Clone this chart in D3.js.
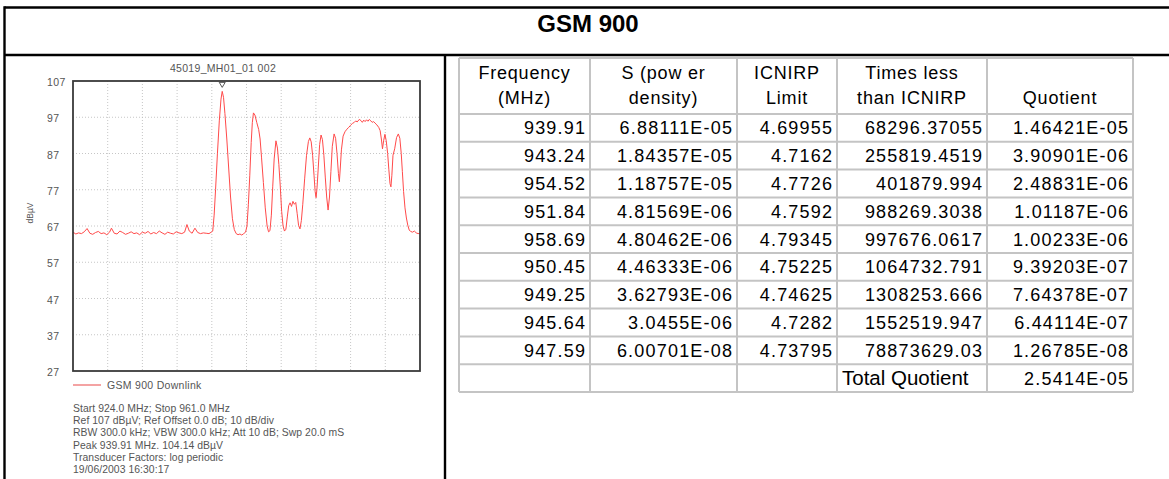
<!DOCTYPE html>
<html>
<head>
<meta charset="utf-8">
<script src="https://cdn.jsdelivr.net/npm/d3@7"></script>
<style>
  body { margin: 0; background: #fff; }
  svg { display: block; font-family: "Liberation Sans", Arial, sans-serif; }
</style>
</head>
<body>
<svg id="page" width="1169" height="479"></svg>
<script>
// ---- data ----
const pageTitle = "GSM 900";
const traceTitle = "45019_MH01_01 002";
const yTickValues = [27, 37, 47, 57, 67, 77, 87, 97, 107];
const freqRange = [924.0, 961.0];
const levelRange = [27, 107];
const xDivisions = 10;
const unitLabel = "dBµV";
const legendLabel = "GSM 900 Downlink";
const peakMarker = [939.91, 104.14];

// sweep trace: [MHz, dBµV]
const spectrum = [
  [924.0, 65.3], [924.3, 64.8], [924.6, 65.1], [924.9, 64.9], [925.2, 65.4], [925.5, 66.3],
  [925.8, 65.0], [926.1, 64.7], [926.4, 65.2], [926.7, 65.5], [927.0, 64.9], [927.3, 65.1],
  [927.6, 64.6], [927.9, 65.3], [928.1, 66.4], [928.4, 65.0], [928.7, 64.8], [929.0, 65.6],
  [929.3, 65.2], [929.6, 64.7], [929.9, 65.0], [930.2, 65.4], [930.5, 64.9], [930.8, 65.1],
  [931.1, 64.6], [931.4, 65.3], [931.7, 65.0], [932.0, 65.5], [932.3, 64.8], [932.6, 65.2],
  [932.9, 64.9], [933.2, 65.6], [933.5, 65.1], [933.8, 64.7], [934.1, 65.3], [934.4, 65.0],
  [934.7, 64.8], [935.0, 65.4], [935.3, 65.1], [935.6, 64.9], [935.9, 65.3], [936.15, 67.4],
  [936.4, 65.6], [936.7, 65.0], [937.0, 66.4], [937.3, 65.2], [937.6, 64.9], [937.9, 65.1],
  [938.2, 65.0], [938.5, 64.9], [938.8, 65.4],
  [938.9, 65.6], [939.05, 70], [939.2, 77], [939.4, 87], [939.6, 96], [939.78, 102],
  [939.91, 104.14], [940.05, 102.5], [940.2, 98], [940.4, 91], [940.6, 83], [940.8, 75],
  [941.0, 69], [941.2, 66], [941.4, 64.9], [941.6, 64.6], [941.8, 64.8], [942.0, 64.5],
  [942.2, 64.9], [942.4, 65.3], [942.55, 67], [942.7, 73], [942.85, 81], [943.0, 90],
  [943.12, 95.5], [943.24, 98.2], [943.4, 97.6], [943.6, 95.5], [943.8, 93.6], [943.95, 91],
  [944.1, 86], [944.3, 79], [944.5, 72], [944.7, 67], [944.85, 65.4], [945.0, 65.7],
  [945.15, 70], [945.3, 78], [945.45, 85.5], [945.64, 90.5], [945.8, 88.5], [945.95, 84],
  [946.1, 78], [946.25, 71], [946.4, 67], [946.55, 65.6], [946.7, 66.1], [946.85, 69.5],
  [947.0, 72.6], [947.15, 73.4], [947.3, 72.4], [947.45, 73.8], [947.6, 73.0], [947.75, 73.5],
  [947.9, 70.5], [948.05, 67.2], [948.2, 66.2], [948.35, 68.5], [948.5, 73], [948.7, 80],
  [948.9, 86.5], [949.1, 90.3], [949.25, 91.3], [949.4, 90.2], [949.55, 86.5], [949.7, 81],
  [949.82, 76.5], [949.92, 74.8], [950.02, 77.5], [950.15, 83], [950.3, 89.5], [950.45, 92.1],
  [950.6, 90.8], [950.75, 86.5], [950.9, 80.5], [951.05, 75], [951.2, 71.4], [951.35, 75],
  [951.5, 82], [951.65, 89], [951.84, 92.4], [952.0, 91.2], [952.15, 87], [952.3, 81.5],
  [952.4, 79.2], [952.5, 83], [952.62, 88], [952.8, 91.8], [953.0, 93], [953.2, 93.7],
  [953.4, 94.2], [953.6, 94.8], [953.8, 95.3], [954.0, 95.6], [954.15, 96.0], [954.3, 95.7],
  [954.52, 96.4], [954.7, 96.1], [954.85, 95.6], [955.0, 96.2], [955.15, 95.8], [955.3, 96.3],
  [955.45, 95.9], [955.6, 96.4], [955.75, 96.0], [955.9, 95.6], [956.05, 95.8], [956.2, 95.4],
  [956.4, 94.9], [956.6, 94.2], [956.75, 93.3], [956.88, 91], [957.0, 88.3], [957.12, 90.5],
  [957.26, 92.3], [957.4, 90.5], [957.55, 87], [957.68, 82.5], [957.8, 78.7], [957.9, 77.8],
  [958.0, 81], [958.12, 86.5], [958.3, 88.3], [958.5, 91.4], [958.69, 92.4], [958.85, 91.2],
  [959.0, 87], [959.12, 82], [959.25, 76.5], [959.4, 72], [959.55, 69.2], [959.7, 67.2],
  [959.85, 65.9], [960.0, 65.5], [960.2, 65.3], [960.4, 65.6], [960.6, 65.1], [960.8, 64.9],
  [961.0, 65.0]
];

const infoLines = [
  "Start 924.0 MHz; Stop 961.0 MHz",
  "Ref 107 dBµV; Ref Offset 0.0 dB; 10 dB/div",
  "RBW 300.0 kHz; VBW 300.0 kHz; Att 10 dB; Swp 20.0 mS",
  "Peak 939.91 MHz. 104.14 dBµV",
  "Transducer Factors: log periodic",
  "19/06/2003 16:30:17"
];

// exposure table
const headerLines = [
  ["Frequency", "(MHz)"],
  ["S (pow er", "density)"],
  ["ICNIRP", "Limit"],
  ["Times less", "than ICNIRP"],
  ["", "Quotient"]
];
const frequencyMHz = ["939.91", "943.24", "954.52", "951.84", "958.69", "950.45", "949.25", "945.64", "947.59"];
const powerDensity = ["6.88111E-05", "1.84357E-05", "1.18757E-05", "4.81569E-06", "4.80462E-06", "4.46333E-06", "3.62793E-06", "3.0455E-06", "6.00701E-08"];
const icnirpLimit = ["4.69955", "4.7162", "4.7726", "4.7592", "4.79345", "4.75225", "4.74625", "4.7282", "4.73795"];
const timesLess = ["68296.37055", "255819.4519", "401879.994", "988269.3038", "997676.0617", "1064732.791", "1308253.666", "1552519.947", "78873629.03"];
const quotient = ["1.46421E-05", "3.90901E-06", "2.48831E-06", "1.01187E-06", "1.00233E-06", "9.39203E-07", "7.64378E-07", "6.44114E-07", "1.26785E-08"];
const totalLabel = "Total Quotient";
const totalQuotient = "2.5414E-05";

// ---- drawing ----
const svg = d3.select("#page");
svg.append("rect").attr("width", 1169).attr("height", 479).attr("fill", "#fff");

// page frame
const frame = svg.append("g").attr("stroke", "#000").attr("stroke-width", 2.4);
frame.append("line").attr("x1", 4.5).attr("x2", 1169).attr("y1", 7.5).attr("y2", 7.5);
frame.append("line").attr("x1", 4.5).attr("x2", 1169).attr("y1", 55).attr("y2", 55);
frame.append("line").attr("x1", 4.5).attr("x2", 4.5).attr("y1", 6.3).attr("y2", 479);
frame.append("line").attr("x1", 445).attr("x2", 445).attr("y1", 55).attr("y2", 479);

svg.append("text").attr("x", 588).attr("y", 32)
  .attr("text-anchor", "middle").attr("font-size", 24).attr("font-weight", "bold")
  .attr("fill", "#000").text(pageTitle);

// ---- spectrum plot ----
const plot = { left: 73, right: 420, top: 81, bottom: 371 };
const x = d3.scaleLinear().domain(freqRange).range([plot.left, plot.right]);
const y = d3.scaleLinear().domain(levelRange).range([plot.bottom, plot.top]);

const chart = svg.append("g").attr("fill", "#555");

chart.append("text").attr("x", 223).attr("y", 72)
  .attr("text-anchor", "middle").attr("font-size", 10.5).attr("letter-spacing", 0.3)
  .text(traceTitle);

// dotted grid
const grid = chart.append("g").attr("stroke", "#b8b8b8").attr("stroke-width", 0.8)
  .attr("stroke-dasharray", "1,2");
grid.selectAll("line.h").data(yTickValues.slice(1, -1)).join("line")
  .attr("x1", plot.left).attr("x2", plot.right)
  .attr("y1", d => y(d)).attr("y2", d => y(d));
const xGrid = d3.range(1, xDivisions).map(i => freqRange[0] + i * (freqRange[1] - freqRange[0]) / xDivisions);
grid.selectAll("line.v").data(xGrid).join("line")
  .attr("y1", plot.top).attr("y2", plot.bottom)
  .attr("x1", d => x(d)).attr("x2", d => x(d));

// y tick labels (left aligned, as on the analyser printout)
chart.selectAll("text.tick").data(yTickValues).join("text")
  .attr("class", "tick")
  .attr("x", 47).attr("y", d => y(d) + 5)
  .attr("font-size", 10.5).attr("letter-spacing", 0.4)
  .text(d => d);

chart.append("text")
  .attr("transform", "translate(33,213) rotate(-90)")
  .attr("text-anchor", "middle").attr("font-size", 8.5)
  .text(unitLabel);

// trace
const line = d3.line().x(d => x(d[0])).y(d => y(d[1]));
chart.append("path").datum(spectrum)
  .attr("d", line).attr("fill", "none")
  .attr("stroke", "#ff4a4a").attr("stroke-width", 1).attr("stroke-linejoin", "round");

// peak marker
const px = x(peakMarker[0]), py = y(peakMarker[1]) - 4;
chart.append("path")
  .attr("d", `M${px - 3},${py - 5}L${px + 3},${py - 5}L${px},${py}Z`)
  .attr("fill", "none").attr("stroke", "#444").attr("stroke-width", 0.9);

// plot frame
chart.append("rect")
  .attr("x", plot.left).attr("y", plot.top)
  .attr("width", plot.right - plot.left).attr("height", plot.bottom - plot.top)
  .attr("fill", "none").attr("stroke", "#3a3a3a").attr("stroke-width", 1.8);

// legend
chart.append("line").attr("x1", 73).attr("x2", 101).attr("y1", 385).attr("y2", 385)
  .attr("stroke", "#f4a3a3").attr("stroke-width", 2);
chart.append("text").attr("x", 107).attr("y", 389)
  .attr("font-size", 10.5).attr("letter-spacing", 0.3).text(legendLabel);

// settings block
chart.selectAll("text.info").data(infoLines).join("text")
  .attr("class", "info")
  .attr("x", 73).attr("y", (d, i) => 412 + i * 12.2)
  .attr("font-size", 10.4).attr("letter-spacing", 0.05).text(d => d);

// ---- table ----
const colEdges = [459, 590, 737, 837, 987, 1133];
const headerTop = 58, headerBottom = 114, rowH = 27.8;
const rows = frequencyMHz.map((f, i) => [f, powerDensity[i], icnirpLimit[i], timesLess[i], quotient[i]]);
rows.push(["", "", "", totalLabel, totalQuotient]);
const tableBottom = headerBottom + rows.length * rowH;
const bodySpacing = 1.2;

const table = svg.append("g").attr("font-size", 18).attr("fill", "#000");

// header text, centred in each column
headerLines.forEach((lines, c) => {
  const cx = (colEdges[c] + colEdges[c + 1]) / 2;
  lines.forEach((t, k) => {
    if (!t) return;
    table.append("text").attr("x", cx).attr("y", 79 + k * 25)
      .attr("text-anchor", "middle").attr("letter-spacing", 0.8).text(t);
  });
});

// body text: numbers right aligned, total label left aligned
rows.forEach((r, i) => {
  const cy = headerBottom + i * rowH + rowH / 2 + 6.5;
  r.forEach((t, c) => {
    if (!t) return;
    const isLabel = t === totalLabel;
    table.append("text")
      .attr("x", isLabel ? colEdges[c] + 5 : colEdges[c + 1] - 5 + bodySpacing)
      .attr("y", isLabel ? cy + 0.5 : cy)
      .attr("font-size", isLabel ? 20.5 : null)
      .attr("letter-spacing", isLabel ? null : bodySpacing)
      .attr("text-anchor", isLabel ? "start" : "end")
      .text(t);
  });
});

// grey cell borders
const borders = table.append("g").attr("stroke", "#c4c4c4").attr("stroke-width", 2);
const hLines = [headerTop, headerBottom].concat(d3.range(1, rows.length + 1).map(i => headerBottom + i * rowH));
borders.selectAll("line.h").data(hLines).join("line")
  .attr("x1", colEdges[0]).attr("x2", colEdges[colEdges.length - 1])
  .attr("y1", d => d).attr("y2", d => d);
borders.selectAll("line.v").data(colEdges).join("line")
  .attr("x1", d => d).attr("x2", d => d)
  .attr("y1", headerTop).attr("y2", tableBottom);
</script>
</body>
</html>
